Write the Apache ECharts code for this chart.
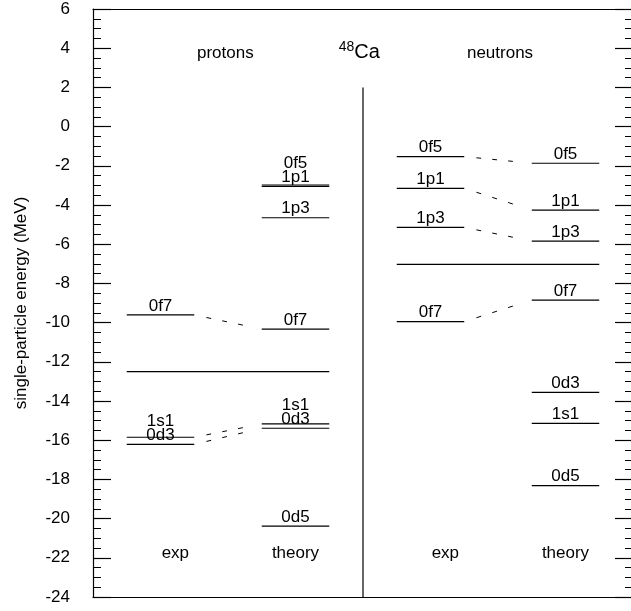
<!DOCTYPE html>
<html><head><meta charset="utf-8">
<script src="https://cdn.jsdelivr.net/npm/echarts@6/dist/echarts.min.js"></script>
<style>html,body{margin:0;padding:0;background:#fff}#c{width:631px;height:611px}</style>
</head><body><div id="c"></div>
<script>
// ---- data ----
const energyMin = -24, energyMax = 6, energyStep = 2;
const protonExpNames = ['0f7', '1s1', '0d3'];
const protonExpEnergies = [-9.61, -15.85, -16.21];
const protonTheoryNames = ['0f5', '1p1', '1p3', '0f7', '1s1', '0d3', '0d5'];
const protonTheoryEnergies = [-2.98, -3.05, -4.65, -10.33, -15.17, -15.39, -20.38];
const neutronExpNames = ['0f5', '1p1', '1p3', '0f7'];
const neutronExpEnergies = [-1.53, -3.15, -5.14, -9.95];
const neutronTheoryNames = ['0f5', '1p1', '1p3', '0f7', '0d3', '1s1', '0d5'];
const neutronTheoryEnergies = [-1.87, -4.26, -5.84, -8.85, -13.56, -15.14, -18.32];
const protonLinks = ['0f7', '1s1', '0d3'];
const neutronLinks = ['0f5', '1p1', '1p3', '0f7'];
const fermiEnergies = [-12.5, -7.03]; // protons, neutrons
const columnTitles = ['exp', 'theory', 'exp', 'theory'];
const panelTitles = ['protons', 'neutrons'];
const nucleusMass = '48', nucleusSymbol = 'Ca';
const yAxisTitle = 'single-particle energy (MeV)';

// ---- layout ----
const FONT = "'Liberation Sans', Arial, Helvetica, sans-serif";
const cols = [[0.5, 1.5], [2.5, 3.5], [4.5, 5.5], [6.5, 7.5]];
const sets = [
  { col: 0, names: protonExpNames, e: protonExpEnergies },
  { col: 1, names: protonTheoryNames, e: protonTheoryEnergies },
  { col: 2, names: neutronExpNames, e: neutronExpEnergies },
  { col: 3, names: neutronTheoryNames, e: neutronTheoryEnergies }
];
const levels = [];
sets.forEach(s => {
  const items = s.names.map((n, i) => ({ name: n, e: s.e[i], x0: cols[s.col][0], x1: cols[s.col][1], below: null }));
  items.sort((a, b) => a.e - b.e);
  for (let i = 1; i < items.length; i++) {
    if (items[i].e - items[i - 1].e < 0.6) items[i].below = items[i - 1];
  }
  items.forEach(it => levels.push(it));
});
const links = [];
function addLinks(names, expSet, thSet) {
  names.forEach(n => {
    const a = expSet.e[expSet.names.indexOf(n)], b = thSet.e[thSet.names.indexOf(n)];
    links.push([cols[expSet.col][1], a, cols[thSet.col][0], b]);
  });
}
addLinks(protonLinks, sets[0], sets[1]);
addLinks(neutronLinks, sets[2], sets[3]);
const fermi = [[cols[0][0], cols[1][1], fermiEnergies[0]], [cols[2][0], cols[3][1], fermiEnergies[1]]];
const dashFractions = [[0.18, 0.25], [0.415, 0.485], [0.65, 0.72]];

const chart = echarts.init(document.getElementById('c'), null, { renderer: 'canvas' });
const yAxisBase = {
  type: 'value', min: energyMin, max: energyMax, interval: energyStep,
  splitLine: { show: false },
  axisLine: { show: true, onZero: false, lineStyle: { color: '#000', width: 1.2 } },
  axisTick: { show: true, inside: true, length: 18, lineStyle: { color: '#000', width: 1.2 } },
  minorTick: { show: true, splitNumber: 4, length: 8, lineStyle: { color: '#000', width: 1 } },
  minorSplitLine: { show: false }
};
const xAxisBase = {
  type: 'value', min: 0, max: 8,
  splitLine: { show: false }, axisTick: { show: false }, axisLabel: { show: false },
  axisLine: { show: true, onZero: false, lineStyle: { color: '#000', width: 1.2 } }
};
function labelBottom(api, l) {
  const own = api.coord([l.x0, l.e])[1] - 0.5;
  if (!l.below) return own;
  return Math.min(own, labelBottom(api, l.below) - 14);
}
const option = {
  backgroundColor: '#fff',
  animation: false,
  grid: { left: 93, right: -2, top: 9, bottom: 14, outerBoundsMode: 'none', containLabel: false },
  xAxis: [Object.assign({ position: 'bottom' }, xAxisBase), Object.assign({ position: 'top' }, xAxisBase)],
  yAxis: [
    Object.assign({}, yAxisBase, {
      position: 'left',
      name: yAxisTitle, nameLocation: 'middle', nameGap: 63,
      nameTextStyle: { fontFamily: FONT, fontSize: 17, color: '#000' },
      axisLabel: { show: true, margin: 23, fontFamily: FONT, fontSize: 17, color: '#000' }
    }),
    Object.assign({}, yAxisBase, { position: 'right', axisLabel: { show: false } })
  ],
  series: [
    {
      type: 'custom', name: 'levels', xAxisIndex: 0, yAxisIndex: 0,
      data: levels.map(l => [l.x0, l.e]),
      renderItem: (params, api) => {
        const l = levels[params.dataIndex];
        const a = api.coord([l.x0, l.e]), b = api.coord([l.x1, l.e]);
        return { type: 'group', children: [
          { type: 'line', shape: { x1: a[0], y1: a[1], x2: b[0], y2: b[1] }, style: { stroke: '#000', lineWidth: 1.2 } },
          { type: 'text', x: (a[0] + b[0]) / 2, y: labelBottom(api, l),
            style: { text: l.name, fill: '#000', font: '17px ' + FONT, align: 'center', verticalAlign: 'bottom' } }
        ] };
      }
    },
    {
      type: 'custom', name: 'links',
      data: links.map(k => [k[0], k[1]]),
      renderItem: (params, api) => {
        const k = links[params.dataIndex];
        const a = api.coord([k[0], k[1]]), b = api.coord([k[2], k[3]]);
        const lerp = t => [a[0] + (b[0] - a[0]) * t, a[1] + (b[1] - a[1]) * t];
        return { type: 'group', children: dashFractions.map(f => {
          const p = lerp(f[0]), q = lerp(f[1]);
          return { type: 'line', shape: { x1: p[0], y1: p[1], x2: q[0], y2: q[1] }, style: { stroke: '#000', lineWidth: 1 } };
        }) };
      }
    },
    {
      type: 'custom', name: 'fermi',
      data: fermi.map(f => [f[0], f[2]]),
      renderItem: (params, api) => {
        const f = fermi[params.dataIndex];
        const a = api.coord([f[0], f[2]]), b = api.coord([f[1], f[2]]);
        return { type: 'line', shape: { x1: a[0], y1: a[1], x2: b[0], y2: b[1] }, style: { stroke: '#000', lineWidth: 1.2 } };
      }
    },
    {
      type: 'custom', name: 'annotations',
      data: [[4, 2]],
      renderItem: (params, api) => {
        const sepTop = api.coord([4, 2]), sepBot = api.coord([4, energyMin]);
        const t = (txt, x, e, size) => {
          const p = api.coord([x, e]);
          return { type: 'text', x: p[0], y: p[1],
            style: { text: txt, fill: '#000', font: size + 'px ' + FONT, align: 'center', verticalAlign: 'middle' } };
        };
        const ca = api.coord([3.87, 3.8]);
        const children = [
          { type: 'line', shape: { x1: sepTop[0], y1: sepTop[1], x2: sepBot[0], y2: sepBot[1] }, style: { stroke: '#000', lineWidth: 1.2 } },
          t(panelTitles[0], 1.96, 3.76, 17),
          t(panelTitles[1], 6.03, 3.76, 17),
          { type: 'text', x: ca[0], y: ca[1], style: { text: nucleusSymbol, fill: '#000', font: '20px ' + FONT, align: 'left', verticalAlign: 'middle' } },
          { type: 'text', x: ca[0], y: ca[1] - 5, style: { text: nucleusMass, fill: '#000', font: '14px ' + FONT, align: 'right', verticalAlign: 'middle' } }
        ];
        const colX = [1.22, 3.0, 5.22, 7.0];
        columnTitles.forEach((c, i) => children.push(t(c, colX[i], -21.76, 17)));
        return { type: 'group', children };
      }
    }
  ]
};
chart.setOption(option);
</script>
</body></html>
